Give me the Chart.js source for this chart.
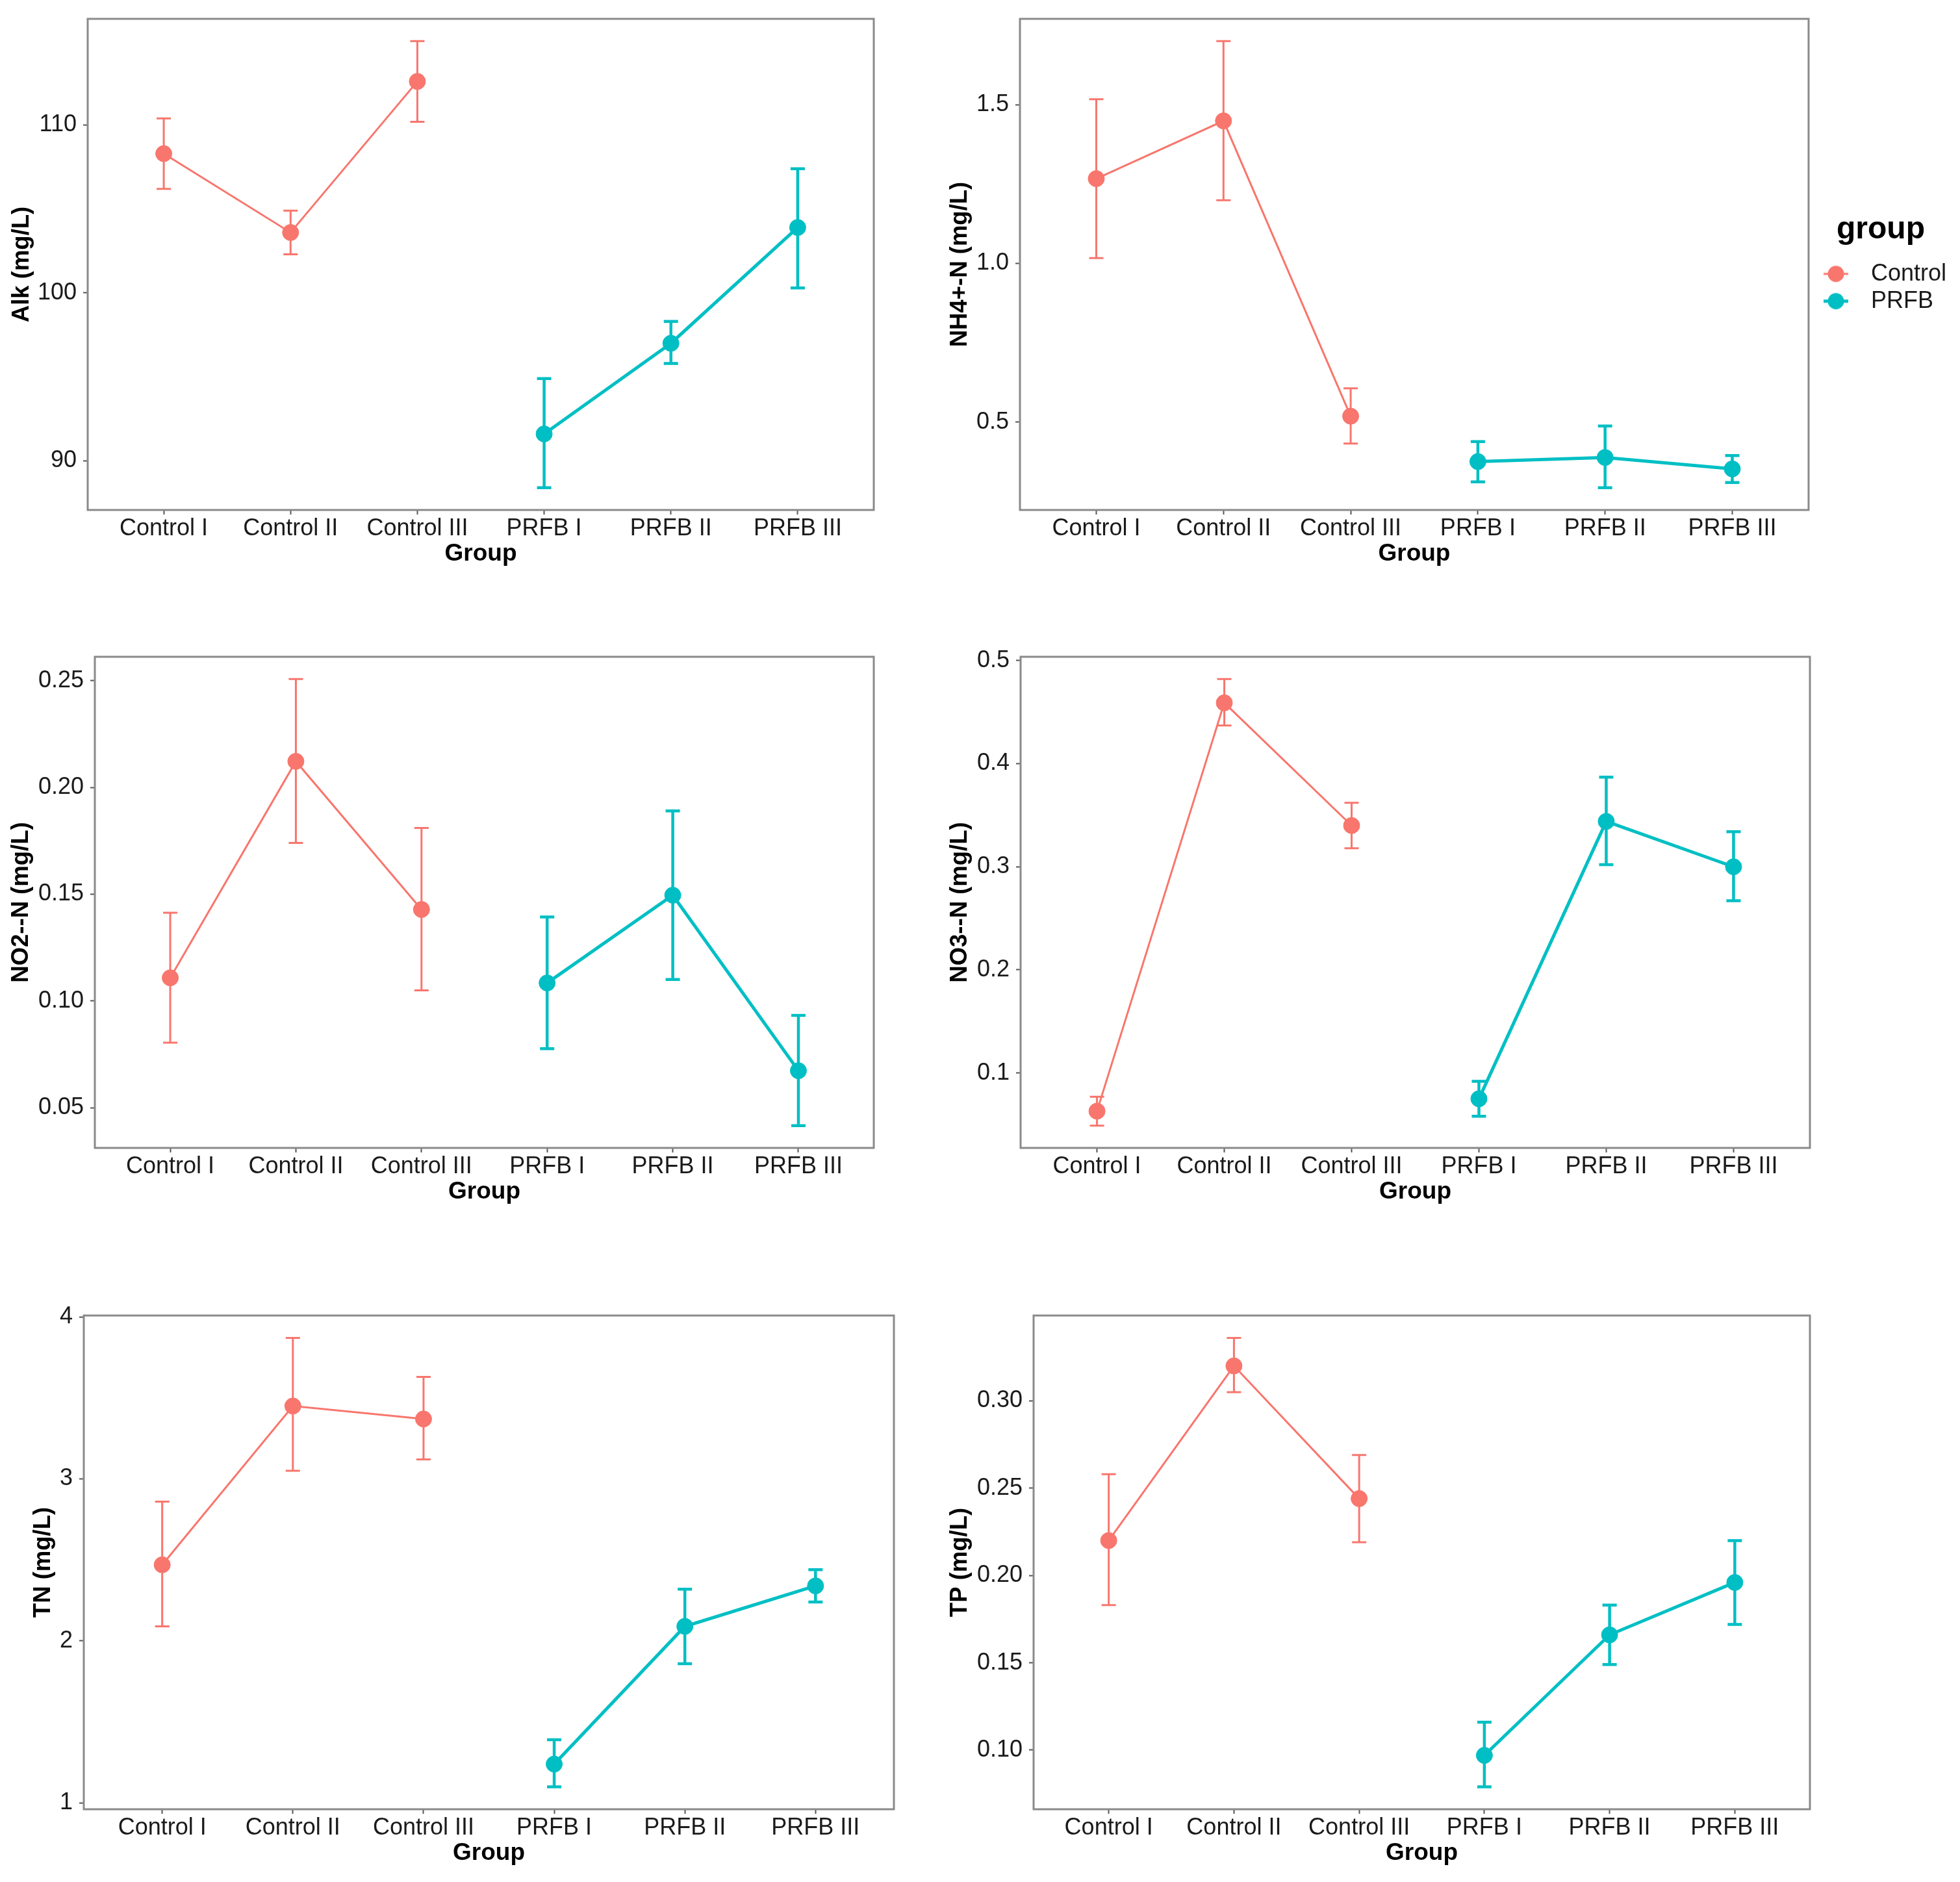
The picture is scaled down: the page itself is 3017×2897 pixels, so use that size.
<!DOCTYPE html>
<html>
<head>
<meta charset="utf-8">
<script src="https://cdn.jsdelivr.net/npm/chart.js@4.4.1/dist/chart.umd.min.js"></script>
<style>
  body { margin: 0; background: #fff; width: 3017px; height: 2897px; position: relative; overflow: hidden; }
  .panel { position: absolute; }
</style>
</head>
<body>
<div class="panel" id="p1"><canvas id="c1"></canvas></div>
<div class="panel" id="p2"><canvas id="c2"></canvas></div>
<div class="panel" id="p3"><canvas id="c3"></canvas></div>
<div class="panel" id="p4"><canvas id="c4"></canvas></div>
<div class="panel" id="p5"><canvas id="c5"></canvas></div>
<div class="panel" id="p6"><canvas id="c6"></canvas></div>
<script>
const groups = ['Control I', 'Control II', 'Control III', 'PRFB I', 'PRFB II', 'PRFB III'];
const groupOf = ['Control', 'Control', 'Control', 'PRFB', 'PRFB', 'PRFB'];
const seriesNames = ['Control', 'PRFB'];

const alkMean = [108.3, 103.6, 112.6, 91.6, 97.0, 103.9];
const alkLow  = [106.2, 102.3, 110.2, 88.4, 95.8, 100.3];
const alkHigh = [110.4, 104.9, 115.0, 94.9, 98.3, 107.4];
const alkTicks = ['90', '100', '110'];

const nh4Mean = [1.267, 1.449, 0.519, 0.376, 0.389, 0.353];
const nh4Low  = [1.017, 1.199, 0.433, 0.312, 0.294, 0.310];
const nh4High = [1.517, 1.700, 0.607, 0.439, 0.488, 0.395];
const nh4Ticks = ['0.5', '1.0', '1.5'];

const no2Mean = [0.1108, 0.2122, 0.1428, 0.1084, 0.1495, 0.0673];
const no2Low  = [0.0804, 0.1740, 0.1049, 0.0776, 0.1100, 0.0416];
const no2High = [0.1413, 0.2507, 0.1810, 0.1393, 0.1890, 0.0932];
const no2Ticks = ['0.05', '0.10', '0.15', '0.20', '0.25'];

const no3Mean = [0.063, 0.459, 0.340, 0.075, 0.344, 0.300];
const no3Low  = [0.049, 0.437, 0.318, 0.058, 0.302, 0.267];
const no3High = [0.077, 0.482, 0.362, 0.092, 0.387, 0.334];
const no3Ticks = ['0.1', '0.2', '0.3', '0.4', '0.5'];

const tnMean = [2.47, 3.45, 3.37, 1.24, 2.09, 2.34];
const tnLow  = [2.09, 3.05, 3.12, 1.10, 1.86, 2.24];
const tnHigh = [2.86, 3.87, 3.63, 1.39, 2.32, 2.44];
const tnTicks = ['1', '2', '3', '4'];

const tpMean = [0.220, 0.320, 0.244, 0.097, 0.166, 0.196];
const tpLow  = [0.183, 0.305, 0.219, 0.079, 0.149, 0.172];
const tpHigh = [0.258, 0.336, 0.269, 0.116, 0.183, 0.220];
const tpTicks = ['0.10', '0.15', '0.20', '0.25', '0.30'];

const colors = { Control: '#F8766D', PRFB: '#00BFC4' };
const lineWidths = { Control: 3, PRFB: 5 };

Chart.defaults.font.family = "'Liberation Sans', Arial, Helvetica, sans-serif";
Chart.defaults.color = '#1a1a1a';

// legend keys like ggplot: a dot with a short line through it
function legendKey(color, lw) {
  const c = document.createElement('canvas');
  c.width = 46; c.height = 28;
  const g = c.getContext('2d');
  g.strokeStyle = color; g.lineWidth = lw;
  g.beginPath(); g.moveTo(4, 14); g.lineTo(42, 14); g.stroke();
  g.fillStyle = color;
  g.beginPath(); g.arc(23, 14, 12.5, 0, Math.PI * 2); g.fill();
  return c;
}
const keys = seriesNames.map(n => legendKey(colors[n], lineWidths[n]));

// plot box of each panel: [left, top, right, bottom] in page px
const panels = [
  { id: 'c1', title: 'Alk (mg/L)',    mean: alkMean, low: alkLow, high: alkHigh, ticks: alkTicks, box: [135, 29, 1345, 785],   titleX: 34,   legend: false },
  { id: 'c2', title: 'NH4+-N (mg/L)', mean: nh4Mean, low: nh4Low, high: nh4High, ticks: nh4Ticks, box: [1570, 29, 2784, 785],  titleX: 1478, legend: true },
  { id: 'c3', title: 'NO2--N (mg/L)', mean: no2Mean, low: no2Low, high: no2High, ticks: no2Ticks, box: [146, 1011, 1345, 1767], titleX: 33,  legend: false },
  { id: 'c4', title: 'NO3--N (mg/L)', mean: no3Mean, low: no3Low, high: no3High, ticks: no3Ticks, box: [1571, 1011, 2786, 1767], titleX: 1478, legend: false },
  { id: 'c5', title: 'TN (mg/L)',     mean: tnMean,  low: tnLow,  high: tnHigh,  ticks: tnTicks,  box: [129, 2025, 1376, 2785], titleX: 67,  legend: false },
  { id: 'c6', title: 'TP (mg/L)',     mean: tpMean,  low: tpLow,  high: tpHigh,  ticks: tpTicks,  box: [1591, 2025, 2786, 2785], titleX: 1478, legend: false }
];

const errorBars = {
  id: 'errorBars',
  beforeDatasetsDraw(chart, args, opts) {
    const { ctx, scales: { x, y } } = chart;
    ctx.save();
    opts.low.forEach((lo, i) => {
      const g = groupOf[i];
      const px = x.getPixelForValue(i);
      const y1 = y.getPixelForValue(lo);
      const y2 = y.getPixelForValue(opts.high[i]);
      ctx.strokeStyle = colors[g];
      ctx.lineWidth = g === 'Control' ? 3 : 4.5;
      ctx.beginPath();
      ctx.moveTo(px, y1); ctx.lineTo(px, y2);
      ctx.moveTo(px - 11, y1); ctx.lineTo(px + 11, y1);
      ctx.moveTo(px - 11, y2); ctx.lineTo(px + 11, y2);
      ctx.stroke();
    });
    ctx.restore();
  }
};

const panelBorder = {
  id: 'panelBorder',
  afterDraw(chart) {
    const { ctx, chartArea: a } = chart;
    ctx.save();
    ctx.strokeStyle = '#8a8a8a';
    ctx.lineWidth = 3;
    ctx.strokeRect(a.left, a.top, a.right - a.left, a.bottom - a.top);
    ctx.restore();
  }
};

panels.forEach(p => {
  const [L, T, R, B] = p.box;
  const divLeft = L < 1400 ? 0 : 1400;
  const topPad = 30;
  const divTop = T - topPad;
  const width = p.legend ? 3017 - divLeft : R + 30 - divLeft;
  const xAreaH = 100;
  const height = B - divTop + xAreaH;
  const div = document.getElementById(p.id).parentNode;
  Object.assign(div.style, { left: divLeft + 'px', top: divTop + 'px', width: width + 'px', height: height + 'px' });

  const lo = Math.min(...p.low), hi = Math.max(...p.high);
  const pad = (hi - lo) * 0.05;

  new Chart(document.getElementById(p.id), {
    type: 'line',
    data: {
      datasets: seriesNames.map(name => ({
        label: name,
        data: p.mean.map((v, i) => ({ x: i, y: v })).filter((d, i) => groupOf[i] === name),
        borderColor: colors[name],
        backgroundColor: colors[name],
        borderWidth: lineWidths[name],
        pointStyle: 'circle',
        pointRadius: 12.5,
        pointHoverRadius: 12.5,
        pointBorderWidth: 1,
        tension: 0
      }))
    },
    options: {
      animation: false,
      responsive: true,
      maintainAspectRatio: false,
      layout: { padding: { top: topPad, right: p.legend ? 11 : width - (R - divLeft), left: 0, bottom: 0 } },
      plugins: {
        legend: {
          display: p.legend,
          position: 'right',
          align: 'start',
          title: { display: true, text: 'group', color: '#000', font: { size: 48, weight: 'bold' }, padding: { top: 301, bottom: 10 } },
          labels: {
            usePointStyle: true, pointStyleWidth: 72, boxHeight: 18, color: '#1a1a1a', font: { size: 36, lineHeight: 1 }, padding: 6,
            generateLabels: chart => Chart.defaults.plugins.legend.labels.generateLabels(chart)
              .map((item, i) => Object.assign(item, { pointStyle: keys[i] }))
          }
        },
        tooltip: { enabled: false },
        errorBars: { low: p.low, high: p.high }
      },
      scales: {
        x: {
          type: 'linear',
          min: -0.6,
          max: 5.6,
          afterBuildTicks: s => { s.ticks = groups.map((g, i) => ({ value: i })); },
          afterFit: s => { s.height = xAreaH; },
          ticks: { autoSkip: false, maxRotation: 0, padding: 4, color: '#1a1a1a', font: { size: 36, lineHeight: 1 }, callback: v => groups[v] },
          grid: { drawOnChartArea: false, drawTicks: true, tickLength: 7, tickColor: '#555', tickWidth: 2 },
          border: { display: false },
          title: { display: true, text: 'Group', color: '#000', font: { size: 37, weight: 'bold', lineHeight: 1 }, padding: { top: 0, bottom: 14 } }
        },
        y: {
          min: lo - pad,
          max: hi + pad,
          afterBuildTicks: s => { s.ticks = p.ticks.map(t => ({ value: parseFloat(t) })); },
          afterFit: s => { s.width = L - divLeft; },
          ticks: { padding: 10, color: '#1a1a1a', font: { size: 36, lineHeight: 1 }, callback: (v, i) => p.ticks[i] },
          grid: { drawOnChartArea: false, drawTicks: true, tickLength: 7, tickColor: '#555', tickWidth: 2 },
          border: { display: false },
          title: { display: true, text: p.title, color: '#000', font: { size: 36.5, weight: 'bold', lineHeight: 1 }, padding: { top: p.titleX - divLeft - 18, bottom: 0 } }
        }
      }
    },
    plugins: [errorBars, panelBorder]
  });
});
</script>
</body>
</html>
